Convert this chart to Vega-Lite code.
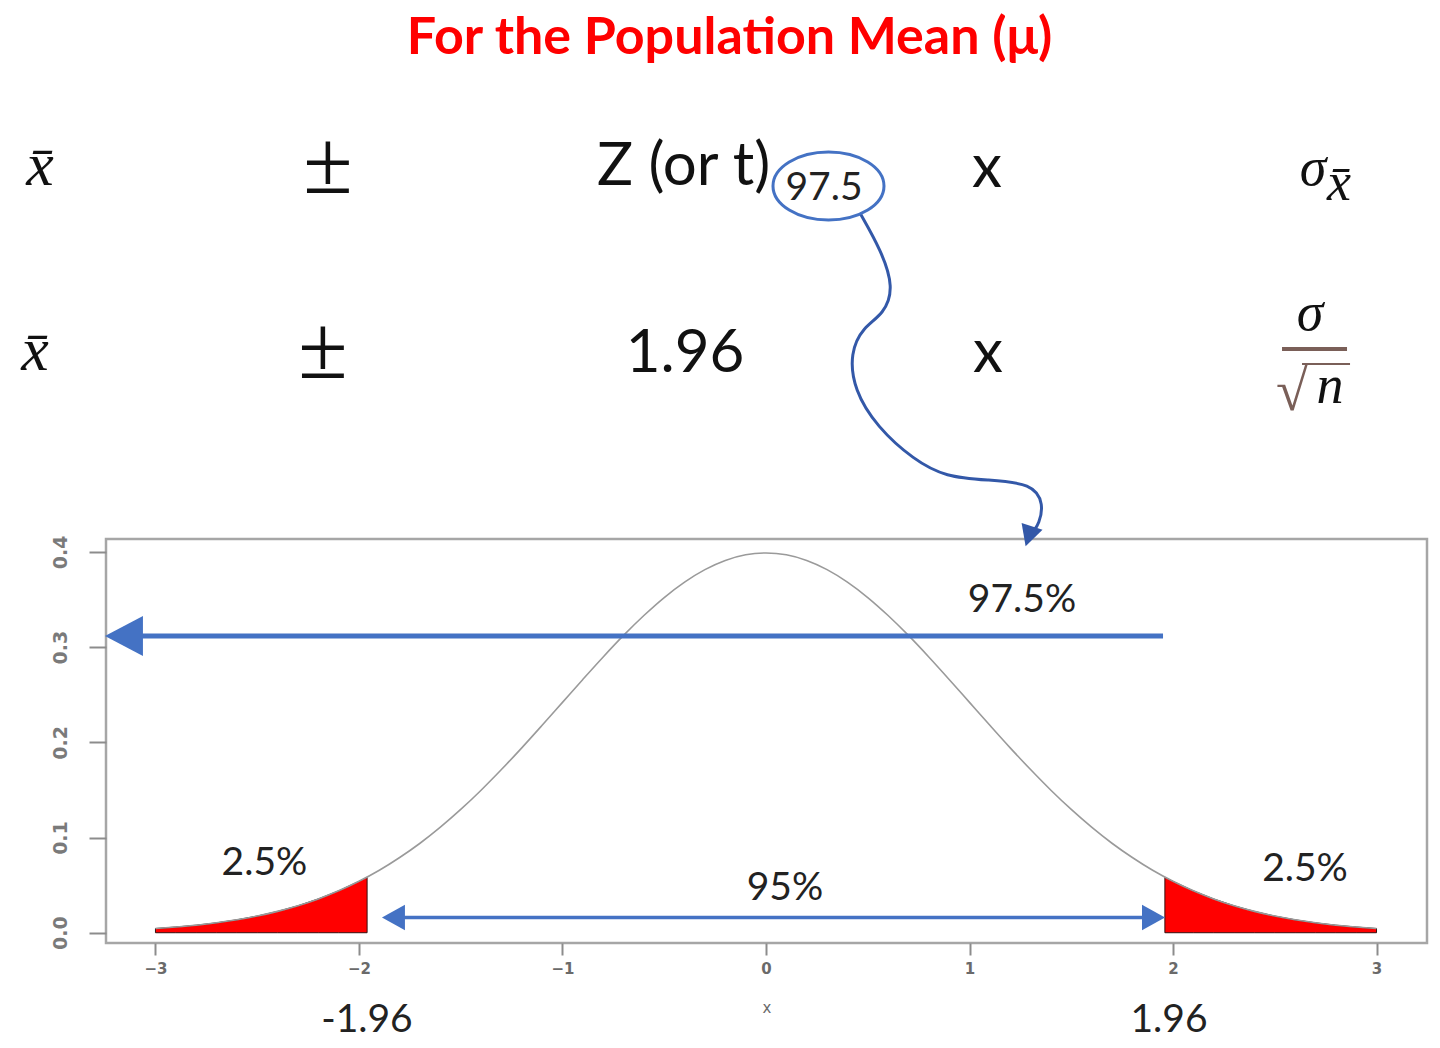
{
  "$schema": "https://vega.github.io/schema/vega-lite/v6.json",
  "width": 1321,
  "height": 404,
  "autosize": {"type": "none"},
  "padding": {"left": 106, "top": 539, "right": 13, "bottom": 105},
  "background": "white",
  "config": {"view": {"stroke": "#a6a6a6", "strokeWidth": 2.5}},
  "datasets": {
    "curve": [
      {"x": -3.0, "y": 0.0044}, {"x": -2.9, "y": 0.0060}, {"x": -2.8, "y": 0.0079}, {"x": -2.7, "y": 0.0104}, {"x": -2.6, "y": 0.0136},
      {"x": -2.5, "y": 0.0175}, {"x": -2.4, "y": 0.0224}, {"x": -2.3, "y": 0.0283}, {"x": -2.2, "y": 0.0355}, {"x": -2.1, "y": 0.0440},
      {"x": -2.0, "y": 0.0540}, {"x": -1.9, "y": 0.0656}, {"x": -1.8, "y": 0.0790}, {"x": -1.7, "y": 0.0940}, {"x": -1.6, "y": 0.1109},
      {"x": -1.5, "y": 0.1295}, {"x": -1.4, "y": 0.1497}, {"x": -1.3, "y": 0.1714}, {"x": -1.2, "y": 0.1942}, {"x": -1.1, "y": 0.2179},
      {"x": -1.0, "y": 0.2420}, {"x": -0.9, "y": 0.2661}, {"x": -0.8, "y": 0.2897}, {"x": -0.7, "y": 0.3123}, {"x": -0.6, "y": 0.3332},
      {"x": -0.5, "y": 0.3521}, {"x": -0.4, "y": 0.3683}, {"x": -0.3, "y": 0.3814}, {"x": -0.2, "y": 0.3910}, {"x": -0.1, "y": 0.3970},
      {"x": 0.0, "y": 0.3989},
      {"x": 0.1, "y": 0.3970}, {"x": 0.2, "y": 0.3910}, {"x": 0.3, "y": 0.3814}, {"x": 0.4, "y": 0.3683}, {"x": 0.5, "y": 0.3521},
      {"x": 0.6, "y": 0.3332}, {"x": 0.7, "y": 0.3123}, {"x": 0.8, "y": 0.2897}, {"x": 0.9, "y": 0.2661}, {"x": 1.0, "y": 0.2420},
      {"x": 1.1, "y": 0.2179}, {"x": 1.2, "y": 0.1942}, {"x": 1.3, "y": 0.1714}, {"x": 1.4, "y": 0.1497}, {"x": 1.5, "y": 0.1295},
      {"x": 1.6, "y": 0.1109}, {"x": 1.7, "y": 0.0940}, {"x": 1.8, "y": 0.0790}, {"x": 1.9, "y": 0.0656}, {"x": 2.0, "y": 0.0540},
      {"x": 2.1, "y": 0.0440}, {"x": 2.2, "y": 0.0355}, {"x": 2.3, "y": 0.0283}, {"x": 2.4, "y": 0.0224}, {"x": 2.5, "y": 0.0175},
      {"x": 2.6, "y": 0.0136}, {"x": 2.7, "y": 0.0104}, {"x": 2.8, "y": 0.0079}, {"x": 2.9, "y": 0.0060}, {"x": 3.0, "y": 0.0044}
    ],
    "leftTail": [
      {"x": -3.0, "y": 0.0044}, {"x": -2.9, "y": 0.0060}, {"x": -2.8, "y": 0.0079}, {"x": -2.7, "y": 0.0104}, {"x": -2.6, "y": 0.0136},
      {"x": -2.5, "y": 0.0175}, {"x": -2.4, "y": 0.0224}, {"x": -2.3, "y": 0.0283}, {"x": -2.2, "y": 0.0355}, {"x": -2.1, "y": 0.0440},
      {"x": -2.0, "y": 0.0540}, {"x": -1.96, "y": 0.0584}
    ],
    "rightTail": [
      {"x": 1.96, "y": 0.0584}, {"x": 2.0, "y": 0.0540}, {"x": 2.1, "y": 0.0440}, {"x": 2.2, "y": 0.0355}, {"x": 2.3, "y": 0.0283},
      {"x": 2.4, "y": 0.0224}, {"x": 2.5, "y": 0.0175}, {"x": 2.6, "y": 0.0136}, {"x": 2.7, "y": 0.0104}, {"x": 2.8, "y": 0.0079},
      {"x": 2.9, "y": 0.0060}, {"x": 3.0, "y": 0.0044}
    ],
    "connector": [
      {"o": 1, "x": 0.4619, "y": 0.7560}, {"o": 2, "x": 0.5651, "y": 0.7171}, {"o": 3, "x": 0.6290, "y": 0.6780},
      {"o": 4, "x": 0.5799, "y": 0.6500}, {"o": 5, "x": 0.4767, "y": 0.6362}, {"o": 6, "x": 0.4128, "y": 0.6089},
      {"o": 7, "x": 0.4324, "y": 0.5701}, {"o": 8, "x": 0.5455, "y": 0.5312}, {"o": 9, "x": 0.7273, "y": 0.4965},
      {"o": 10, "x": 0.8845, "y": 0.4787}, {"o": 11, "x": 1.0860, "y": 0.4755}, {"o": 12, "x": 1.3100, "y": 0.4724},
      {"o": 13, "x": 1.3660, "y": 0.4500}, {"o": 14, "x": 1.3400, "y": 0.4290}, {"o": 15, "x": 1.3170, "y": 0.4230}
    ]
  },
  "encoding": {
    "x": {
      "field": "x", "type": "quantitative",
      "scale": {"domain": [-3.243, 3.248], "nice": false, "zero": false},
      "axis": {
        "values": [-3, -2, -1, 0, 1, 2, 3], "format": "d", "domain": false, "grid": false,
        "tickColor": "#8c8c8c", "tickWidth": 2, "tickSize": 12,
        "labelFont": "DejaVu Sans", "labelFontSize": 15, "labelFontWeight": "bold", "labelColor": "#6a6a6a", "labelPadding": 6,
        "title": "x", "titleFont": "DejaVu Sans", "titleFontSize": 15, "titleFontWeight": "normal", "titleColor": "#6a6a6a", "titlePadding": 24
      }
    },
    "y": {
      "field": "y", "type": "quantitative",
      "scale": {"domain": [-0.0108, 0.4136], "nice": false, "zero": false},
      "axis": {
        "values": [0, 0.1, 0.2, 0.3, 0.4], "format": ".1f", "domain": false, "grid": false,
        "tickColor": "#8c8c8c", "tickWidth": 2, "tickSize": 17,
        "labelAngle": -90, "labelAlign": "center", "labelBaseline": "bottom",
        "labelFont": "DejaVu Sans", "labelFontSize": 19, "labelFontWeight": "bold", "labelColor": "#7a7a7a", "labelPadding": 19,
        "title": null
      }
    }
  },
  "layer": [
    {
      "data": {"name": "leftTail"},
      "mark": {"type": "area", "color": "#ff0000", "stroke": "#331111", "strokeWidth": 1, "opacity": 1},
      "encoding": {"y2": {"datum": 0}}
    },
    {
      "data": {"name": "rightTail"},
      "mark": {"type": "area", "color": "#ff0000", "stroke": "#331111", "strokeWidth": 1, "opacity": 1},
      "encoding": {"y2": {"datum": 0}}
    },
    {
      "data": {"name": "curve"},
      "mark": {"type": "line", "color": "#9a9a9a", "strokeWidth": 1.6, "interpolate": "monotone"}
    },
    {
      "data": {"values": [{"x": -3.1253, "x2": 1.9509, "y": 0.3117}]},
      "mark": {"type": "rule", "color": "#4472c4", "strokeWidth": 5},
      "encoding": {"x2": {"field": "x2"}}
    },
    {
      "data": {"values": [{"x": -3.1548, "y": 0.3117}]},
      "mark": {"type": "point", "shape": "M-1,0L1,-1.05L1,1.05Z", "size": 1444, "filled": true, "color": "#4472c4", "opacity": 1}
    },
    {
      "data": {"values": [{"x": -1.833, "x2": 1.9017, "y": 0.0160}]},
      "mark": {"type": "rule", "color": "#4472c4", "strokeWidth": 3.5},
      "encoding": {"x2": {"field": "x2"}}
    },
    {
      "data": {"values": [{"x": -1.8305, "y": 0.0160}]},
      "mark": {"type": "point", "shape": "M-1,0L1,-1.1L1,1.1Z", "size": 529, "filled": true, "color": "#4472c4", "opacity": 1}
    },
    {
      "data": {"values": [{"x": 1.9042, "y": 0.0160}]},
      "mark": {"type": "point", "shape": "M1,0L-1,-1.1L-1,1.1Z", "size": 529, "filled": true, "color": "#4472c4", "opacity": 1}
    },
    {
      "data": {"name": "connector"},
      "mark": {"type": "line", "color": "#3358a8", "strokeWidth": 3, "interpolate": "basis"},
      "encoding": {"order": {"field": "o", "type": "quantitative"}}
    },
    {
      "data": {"values": [{"x": 1.2924, "y": 0.4170}]},
      "mark": {"type": "point", "shape": "M0,1L-1,-0.9L1,-0.9Z", "size": 484, "angle": 18, "filled": true, "color": "#3358a8", "opacity": 1}
    },
    {
      "data": {"values": [{"x": 0.3071, "y": 0.7844}]},
      "mark": {"type": "point", "shape": "M1,0C1,0.3386 0.5523,0.613 0,0.613C-0.5523,0.613 -1,0.3386 -1,0C-1,-0.3386 -0.5523,-0.613 0,-0.613C0.5523,-0.613 1,-0.3386 1,0Z", "size": 12321, "filled": false, "color": "#4472c4", "strokeWidth": 3, "opacity": 1}
    },
    {
      "data": {"values": [{"x": -0.1794, "y": 0.9230, "t": "For the Population Mean (μ)"}]},
      "mark": {"type": "text", "font": "Lato", "fontWeight": "bold", "fontSize": 52, "color": "#ff0000", "align": "center", "baseline": "alphabetic"},
      "encoding": {"text": {"field": "t"}}
    },
    {
      "data": {"values": [{"x": -0.8305, "y": 0.7854, "t": "Z (or t)"}]},
      "mark": {"type": "text", "font": "Lato", "fontSize": 60, "color": "#111111", "align": "left", "baseline": "alphabetic"},
      "encoding": {"text": {"field": "t"}}
    },
    {
      "data": {"values": [
        {"x": -0.3980, "y": 0.5890, "t": "1.96"},
        {"x": 1.0860, "y": 0.7833, "t": "x"},
        {"x": 1.0909, "y": 0.5890, "t": "x"}
      ]},
      "mark": {"type": "text", "font": "Lato", "fontSize": 60, "color": "#111111", "align": "center", "baseline": "alphabetic"},
      "encoding": {"text": {"field": "t"}}
    },
    {
      "data": {"values": [
        {"x": -3.5676, "y": 0.7854, "t": "x̄"},
        {"x": -3.5921, "y": 0.5911, "t": "x̄"}
      ]},
      "mark": {"type": "text", "font": "Liberation Serif", "fontStyle": "italic", "fontSize": 62, "color": "#111111", "align": "center", "baseline": "alphabetic"},
      "encoding": {"text": {"field": "t"}}
    },
    {
      "data": {"values": [
        {"x": 2.6880, "y": 0.7854, "t": "σ"},
        {"x": 2.8157, "y": 0.7697, "t": "x̄"},
        {"x": 2.6732, "y": 0.6331, "t": "σ"},
        {"x": 2.7715, "y": 0.5564, "t": "n"}
      ]},
      "mark": {"type": "text", "font": "Liberation Serif", "fontStyle": "italic", "fontSize": 54, "color": "#111111", "align": "center", "baseline": "alphabetic"},
      "encoding": {"text": {"field": "t"}}
    },
    {
      "data": {"values": [
        {"x": -2.1523, "y": 0.7770, "t": "±"},
        {"x": -2.1769, "y": 0.5827, "t": "±"}
      ]},
      "mark": {"type": "text", "font": "Liberation Serif", "fontSize": 90, "color": "#111111", "align": "center", "baseline": "alphabetic"},
      "encoding": {"text": {"field": "t"}}
    },
    {
      "data": {"values": [{"x": 2.5848, "y": 0.5491, "t": "√"}]},
      "mark": {"type": "text", "font": "Liberation Serif", "fontSize": 58, "color": "#7a5f58", "align": "center", "baseline": "alphabetic"},
      "encoding": {"text": {"field": "t"}}
    },
    {
      "data": {"values": [{"x": 2.5356, "x2": 2.8550, "y": 0.6131}]},
      "mark": {"type": "rule", "color": "#7a5f58", "strokeWidth": 4},
      "encoding": {"x2": {"field": "x2"}}
    },
    {
      "data": {"values": [{"x": 2.6339, "x2": 2.8698, "y": 0.5974}]},
      "mark": {"type": "rule", "color": "#7a5f58", "strokeWidth": 2},
      "encoding": {"x2": {"field": "x2"}}
    },
    {
      "data": {"values": [{"x": 0.2850, "y": 0.7697, "t": "97.5"}]},
      "mark": {"type": "text", "font": "Lato", "fontSize": 39, "color": "#222222", "align": "center", "baseline": "alphabetic"},
      "encoding": {"text": {"field": "t"}}
    },
    {
      "data": {"values": [
        {"x": 1.2580, "y": 0.3369, "t": "97.5%"},
        {"x": -2.4644, "y": 0.0606, "t": "2.5%"},
        {"x": 2.6486, "y": 0.0543, "t": "2.5%"},
        {"x": 0.0934, "y": 0.0344, "t": "95%"},
        {"x": -1.9607, "y": -0.1043, "t": "-1.96"},
        {"x": 1.9803, "y": -0.1043, "t": "1.96"}
      ]},
      "mark": {"type": "text", "font": "Lato", "fontSize": 39, "color": "#222222", "align": "center", "baseline": "alphabetic"},
      "encoding": {"text": {"field": "t"}}
    }
  ]
}
